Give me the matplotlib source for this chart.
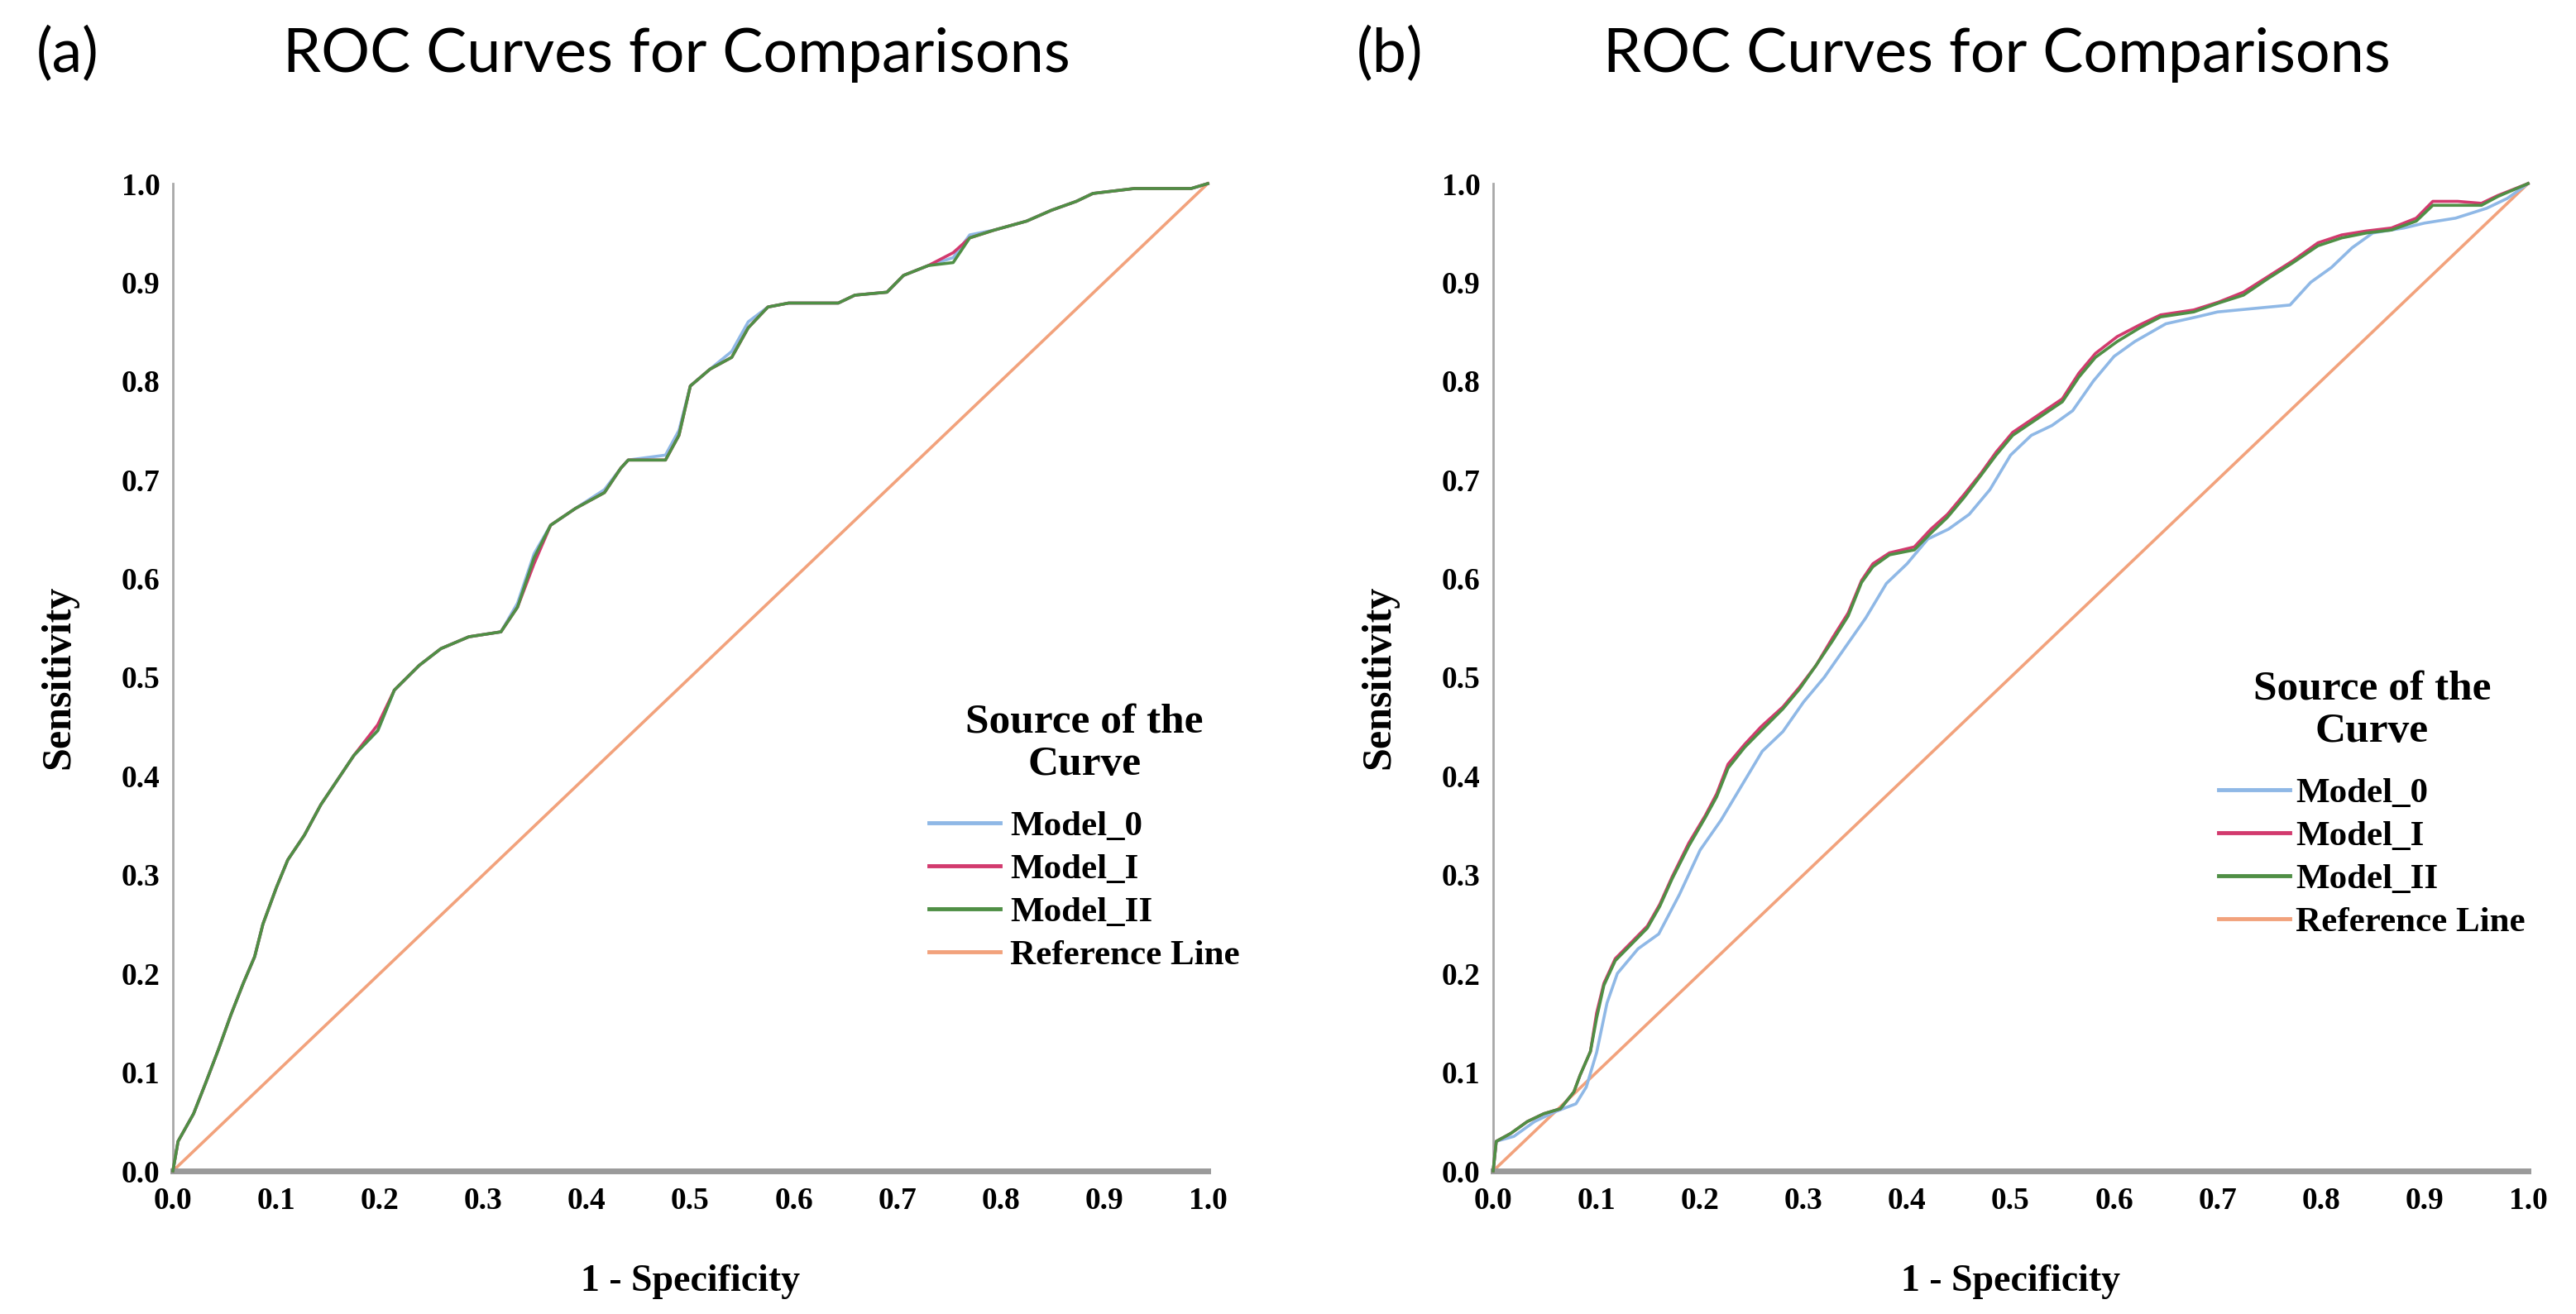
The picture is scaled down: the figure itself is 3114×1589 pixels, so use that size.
import numpy as np
import matplotlib
matplotlib.use("Agg")
import matplotlib.pyplot as plt

# ---- panel (a) ----
a_fpr = [0, 0.005, 0.02, 0.032, 0.044, 0.056, 0.068, 0.079, 0.087, 0.1, 0.111, 0.127, 0.143,
         0.159, 0.175, 0.198, 0.214, 0.238, 0.259, 0.286, 0.317, 0.333, 0.349, 0.365, 0.389,
         0.417, 0.433, 0.44, 0.476, 0.489, 0.5, 0.519, 0.54, 0.556, 0.575, 0.595, 0.643, 0.659,
         0.69, 0.706, 0.73, 0.754, 0.77, 0.794, 0.825, 0.849, 0.873, 0.889, 0.929, 0.984, 1.0]
a_model0 = [0, 0.03, 0.058, 0.09, 0.123, 0.158, 0.19, 0.217, 0.25, 0.287, 0.315, 0.34, 0.371,
            0.396, 0.421, 0.446, 0.487, 0.512, 0.529, 0.541, 0.546, 0.575, 0.625, 0.654, 0.671,
            0.69, 0.712, 0.72, 0.725, 0.75, 0.795, 0.812, 0.83, 0.86, 0.875, 0.879, 0.879, 0.887,
            0.89, 0.907, 0.917, 0.925, 0.948, 0.953, 0.962, 0.973, 0.982, 0.99, 0.995, 0.995, 1.0]
a_model1 = [0, 0.03, 0.058, 0.09, 0.123, 0.158, 0.19, 0.217, 0.25, 0.287, 0.315, 0.34, 0.371,
            0.396, 0.421, 0.452, 0.487, 0.512, 0.529, 0.541, 0.546, 0.571, 0.615, 0.654, 0.671,
            0.687, 0.712, 0.72, 0.72, 0.745, 0.795, 0.812, 0.824, 0.854, 0.875, 0.879, 0.879, 0.887,
            0.89, 0.907, 0.917, 0.93, 0.945, 0.953, 0.962, 0.973, 0.982, 0.99, 0.995, 0.995, 1.0]
a_model2 = [0, 0.03, 0.058, 0.09, 0.123, 0.158, 0.19, 0.217, 0.25, 0.287, 0.315, 0.34, 0.371,
            0.396, 0.421, 0.446, 0.487, 0.512, 0.529, 0.541, 0.546, 0.571, 0.621, 0.654, 0.671,
            0.687, 0.712, 0.72, 0.72, 0.745, 0.795, 0.812, 0.824, 0.854, 0.875, 0.879, 0.879, 0.887,
            0.89, 0.907, 0.917, 0.92, 0.945, 0.953, 0.962, 0.973, 0.982, 0.99, 0.995, 0.995, 1.0]

# ---- panel (b) ----
b_fpr = [0, 0.003, 0.017, 0.033, 0.049, 0.065, 0.078, 0.084, 0.094, 0.1, 0.107, 0.118, 0.134,
         0.149, 0.161, 0.173, 0.189, 0.205, 0.216, 0.227, 0.243, 0.259, 0.28, 0.296, 0.312,
         0.328, 0.343, 0.356, 0.367, 0.383, 0.407, 0.423, 0.439, 0.455, 0.471, 0.486, 0.502,
         0.526, 0.55, 0.566, 0.582, 0.603, 0.625, 0.645, 0.677, 0.701, 0.725, 0.749, 0.773,
         0.797, 0.82, 0.844, 0.868, 0.892, 0.908, 0.932, 0.955, 0.971, 1.0]
b_model1 = [0, 0.03, 0.038, 0.05, 0.058, 0.063, 0.08, 0.097, 0.121, 0.16, 0.19, 0.215, 0.232,
            0.248, 0.27, 0.298, 0.332, 0.36, 0.382, 0.412, 0.432, 0.45, 0.47, 0.49, 0.512,
            0.54, 0.565, 0.598, 0.615, 0.626, 0.632, 0.65, 0.665, 0.685, 0.706, 0.728, 0.748,
            0.765, 0.782, 0.808, 0.828, 0.845, 0.857, 0.867, 0.872, 0.88, 0.89, 0.906, 0.922,
            0.94, 0.948, 0.952, 0.955, 0.965, 0.982, 0.982, 0.98, 0.988, 1.0]
b_model2 = [0, 0.03, 0.038, 0.05, 0.058, 0.063, 0.08, 0.097, 0.121, 0.155, 0.188, 0.213, 0.23,
            0.246, 0.268, 0.296, 0.329, 0.358, 0.379, 0.408, 0.429, 0.446, 0.468, 0.488, 0.512,
            0.537, 0.562, 0.596, 0.612, 0.624, 0.629, 0.646, 0.662, 0.682, 0.704, 0.725, 0.745,
            0.762, 0.779, 0.804, 0.824, 0.84, 0.854, 0.865, 0.87, 0.879, 0.887, 0.904, 0.92,
            0.937, 0.945, 0.95, 0.953, 0.962, 0.978, 0.978, 0.978, 0.987, 1.0]
b_fpr0 = [0, 0.003, 0.02, 0.04, 0.06, 0.08, 0.09, 0.1, 0.11, 0.12, 0.14, 0.16, 0.18, 0.2, 0.22,
          0.24, 0.26, 0.28, 0.3, 0.32, 0.34, 0.36, 0.38, 0.4, 0.42, 0.44, 0.46, 0.48, 0.5, 0.52,
          0.54, 0.56, 0.58, 0.6, 0.62, 0.65, 0.68, 0.7, 0.72, 0.75, 0.77, 0.79, 0.81, 0.83, 0.85,
          0.88, 0.9, 0.93, 0.96, 0.98, 1.0]
b_model0 = [0, 0.03, 0.035, 0.05, 0.06, 0.068, 0.085, 0.12, 0.17, 0.2, 0.225, 0.24, 0.28, 0.325,
            0.355, 0.39, 0.425, 0.445, 0.475, 0.5, 0.53, 0.56, 0.595, 0.615, 0.64, 0.65, 0.665, 0.69,
            0.725, 0.745, 0.755, 0.77, 0.8, 0.825, 0.84, 0.858, 0.865, 0.87, 0.872, 0.875, 0.877,
            0.9, 0.915, 0.935, 0.95, 0.955, 0.96, 0.965, 0.975, 0.985, 1.0]

labels = ["Model_0", "Model_I", "Model_II", "Reference Line"]
colors = ["#8fb8e6", "#d23a6e", "#4f8f45", "#f2a27c"]

W, H = 3114, 1589
fig = plt.figure(figsize=(W / 100, H / 100), dpi=100)

# tag, axes left px, x data per curve, y data per curve, legend (left px, top px, text pad)
panels = [
    ("(a)", 209, [a_fpr, a_fpr, a_fpr], [a_model0, a_model1, a_model2], (1123, 850, 0.28)),
    ("(b)", 1805, [b_fpr0, b_fpr, b_fpr], [b_model0, b_model1, b_model2], (2682, 810, 0.17)),
]

serif = "Liberation Serif"
for tag, left_px, xs, curves, leg_pos in panels:
    ax = fig.add_axes([left_px / W, (H - 1416) / H, 1251 / W, 1194 / H])
    for x, y, c, lab in zip(xs, curves, colors[:3], labels[:3]):
        ax.plot(x, y, color=c, lw=2.6, label=lab, clip_on=False, zorder=3)
    ax.plot([0, 1], [0, 1], color=colors[3], lw=2.6, label=labels[3], clip_on=False, zorder=2)

    ax.set_xlim(0, 1)
    ax.set_ylim(0, 1)
    ticks = np.round(np.arange(0, 1.01, 0.1), 1)
    ax.set_xticks(ticks)
    ax.set_yticks(ticks)
    ax.set_xticklabels([f"{t:.1f}" for t in ticks])
    ax.set_yticklabels([f"{t:.1f}" for t in ticks])
    ax.tick_params(length=0, labelsize=27)
    ax.tick_params(axis="x", pad=14)
    ax.tick_params(axis="y", pad=11)
    for lab in ax.get_xticklabels() + ax.get_yticklabels():
        lab.set_fontfamily(serif)
        lab.set_fontweight("bold")
    for s in ["top", "right"]:
        ax.spines[s].set_visible(False)
    ax.spines["left"].set_color("#a8a8a8")
    ax.spines["left"].set_linewidth(2)
    ax.spines["bottom"].set_color("#9a9a9a")
    ax.spines["bottom"].set_linewidth(5)

    ax.set_xlabel("1 - Specificity", fontfamily=serif, fontweight="bold", fontsize=33)
    ax.set_ylabel("Sensitivity", fontfamily=serif, fontweight="bold", fontsize=36)
    ax.xaxis.set_label_coords(0.5, -(1529 - 1416) / 1194)
    ax.yaxis.set_label_coords(-115 / 1251, 0.5)

    fig.text((left_px - 165) / W, 1 - 66 / H, tag, fontfamily="Lato", fontsize=53,
             ha="left", va="center")
    fig.text((left_px + 609) / W, 1 - 66 / H, "ROC Curves for Comparisons", fontfamily="Lato",
             fontsize=53, ha="center", va="center")

    leg = ax.legend(loc="upper left", bbox_to_anchor=(leg_pos[0] / W, 1 - leg_pos[1] / H),
                    bbox_transform=fig.transFigure, frameon=False,
                    title="Source of the\nCurve", handlelength=2.0, handletextpad=leg_pos[2],
                    labelspacing=0.3, borderaxespad=0, borderpad=0,
                    prop={"family": serif, "weight": "bold", "size": 31})
    for line in leg.get_lines():
        line.set_linewidth(3.5)
    t = leg.get_title()
    t.set_fontfamily(serif)
    t.set_fontweight("bold")
    t.set_fontsize(37)
    t.set_multialignment("center")
    t.set_linespacing(1.17)
    leg._legend_box.sep = 23

fig.savefig("out.png", dpi=100, facecolor="white")
